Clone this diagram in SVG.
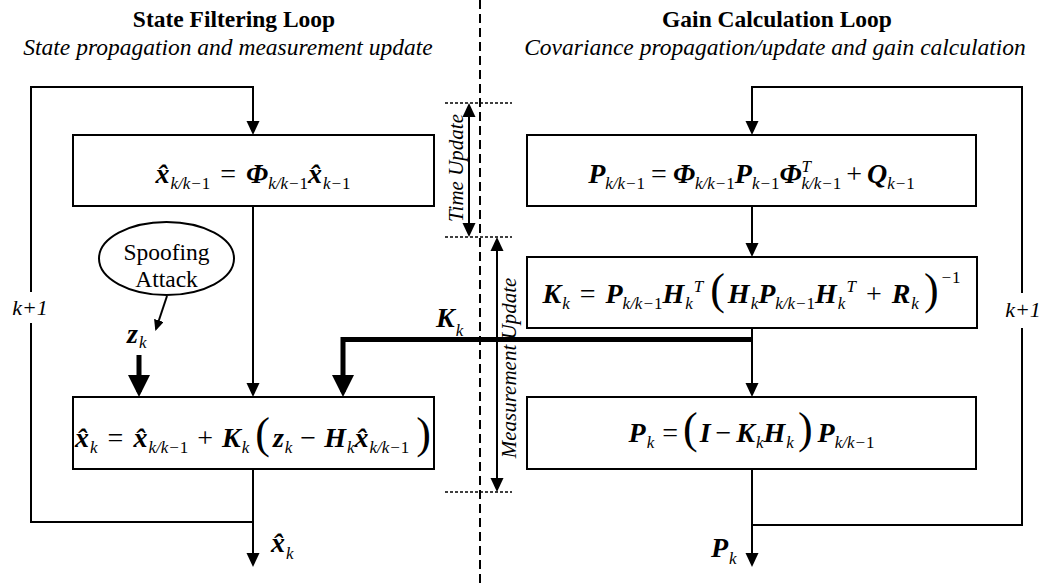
<svg xmlns="http://www.w3.org/2000/svg" width="1043" height="585" viewBox="0 0 1043 585">
<style>
text{font-family:"Liberation Serif","Times New Roman",serif;fill:#000}
.t{font-size:23.5px;font-weight:bold}
.st{font-size:23.5px;font-style:italic}
.lbl{font-size:21px;font-style:italic}
.eq{font-size:28px}
.b{font-weight:bold;font-style:italic}
.s{font-style:italic;font-size:17px;font-weight:normal}
.u{font-style:normal}
.o{font-style:normal;font-weight:normal}
.p{font-size:44px;font-weight:normal;font-style:normal}
.box{fill:#fff;stroke:#000;stroke-width:2}
.ln{fill:none;stroke:#000;stroke-width:2}
.thick{fill:none;stroke:#000;stroke-width:5}
.dot{fill:none;stroke:#000;stroke-width:1.5;stroke-dasharray:3 2}
.dash{fill:none;stroke:#000;stroke-width:2;stroke-dasharray:9 5}
</style>
<defs>
<marker id="ah" markerUnits="userSpaceOnUse" viewBox="0 0 14 14" refX="11" refY="7" markerWidth="14" markerHeight="14" orient="auto-start-reverse"><path d="M0,0.5 L14,7 L0,13.5 z"/></marker>
<marker id="ahs" markerUnits="userSpaceOnUse" viewBox="0 0 11 10" refX="9" refY="5" markerWidth="11" markerHeight="10" orient="auto"><path d="M0,0 L11,5 L0,10 z"/></marker>
<marker id="aht" markerUnits="userSpaceOnUse" viewBox="0 0 22 22" refX="17" refY="11" markerWidth="22" markerHeight="22" orient="auto"><path d="M0,0 L22,11 L0,22 z"/></marker>
</defs>

<g id="titles">
<text class="t" x="234" y="27" text-anchor="middle">State Filtering Loop</text>
<text class="st" x="228" y="55" text-anchor="middle">State propagation and measurement update</text>
<text class="t" x="777" y="27" text-anchor="middle">Gain Calculation Loop</text>
<text class="st" x="775" y="55" text-anchor="middle">Covariance propagation/update and gain calculation</text>
</g>

<g id="divider">
<path class="dash" d="M480,0 V585"/>
<path class="dot" d="M445,103 H512 M445,237 H512 M445,492 H512"/>
<path class="ln" d="M469,106 V234" marker-start="url(#ah)" marker-end="url(#ah)"/>
<path class="ln" d="M497,240 V489" marker-start="url(#ah)" marker-end="url(#ah)"/>
<text class="lbl" transform="translate(463,168) rotate(-90)" text-anchor="middle">Time Update</text>
<text class="lbl" transform="translate(516,368) rotate(-90)" text-anchor="middle">Measurement Update</text>
</g>

<g id="connectors">
<path class="ln" d="M253,522 H31 V323 M31,292 V87 H253 V132" marker-end="url(#ah)"/>
<path class="ln" d="M253,206 V394" marker-end="url(#ah)"/>
<path class="ln" d="M253,469 V564" marker-end="url(#ah)"/>
<path class="ln" d="M752,525 H1022 V328 M1022,293 V87 H752 V132" marker-end="url(#ah)"/>
<path class="ln" d="M752,206 V254" marker-end="url(#ah)"/>
<path class="ln" d="M752,328 V394" marker-end="url(#ah)"/>
<path class="ln" d="M752,469 V564" marker-end="url(#ah)"/>
<path class="thick" d="M752,339.5 H343 V392" marker-end="url(#aht)"/>
<path class="thick" d="M139,355 V392" marker-end="url(#aht)"/>
<path class="ln" d="M167,296 L156,329" marker-end="url(#ahs)"/>
</g>

<g id="box-state-predict">
<rect class="box" x="73" y="135" width="361" height="71"/>
<text class="eq" x="253" y="183" text-anchor="middle"><tspan class="b">x̂</tspan><tspan class="s" dx="1" dy="6">k/k−<tspan class="u">1</tspan></tspan><tspan class="o" dy="-6" dx="10">=</tspan><tspan class="b" dx="10">Φ</tspan><tspan class="s" dy="6">k/k−<tspan class="u">1</tspan></tspan><tspan class="b" dy="-6">x̂</tspan><tspan class="s" dx="1" dy="6">k−<tspan class="u">1</tspan></tspan></text>
</g>

<g id="box-state-update">
<rect class="box" x="73" y="397" width="361" height="72"/>
<text class="eq" x="253" y="447" text-anchor="middle"><tspan class="b">x̂</tspan><tspan class="s" dx="1" dy="6">k</tspan><tspan class="o" dy="-6" dx="10">=</tspan><tspan class="b" dx="10">x̂</tspan><tspan class="s" dx="1" dy="6">k/k−<tspan class="u">1</tspan></tspan><tspan class="o" dy="-6" dx="9">+</tspan><tspan class="b" dx="9">K</tspan><tspan class="s" dx="1" dy="6">k</tspan><tspan class="p" dy="-5" dx="6">(</tspan><tspan class="b" dy="-1" dx="3">z</tspan><tspan class="s" dx="1" dy="6">k</tspan><tspan class="o" dy="-6" dx="8">−</tspan><tspan class="b" dx="8">H</tspan><tspan class="s" dx="1" dy="6">k</tspan><tspan class="b" dy="-6">x̂</tspan><tspan class="s" dx="1" dy="6">k/k−<tspan class="u">1</tspan></tspan><tspan class="p" dy="-5" dx="7">)</tspan></text>
</g>

<g id="box-cov-predict">
<rect class="box" x="527" y="135" width="449" height="71"/>
<text class="eq" x="751.5" y="183" text-anchor="middle"><tspan class="b">P</tspan><tspan class="s" dy="6">k/k−<tspan class="u">1</tspan></tspan><tspan class="o" dy="-6" dx="6">=</tspan><tspan class="b" dx="6">Φ</tspan><tspan class="s" dy="6">k/k−<tspan class="u">1</tspan></tspan><tspan class="b" dy="-6">P</tspan><tspan class="s" dy="6">k−<tspan class="u">1</tspan></tspan><tspan class="b" dy="-6">Φ</tspan><tspan class="s" dy="-11">T</tspan><tspan class="s" dy="17" dx="-9.5">k/k−<tspan class="u">1</tspan></tspan><tspan class="o" dy="-6" dx="5">+</tspan><tspan class="b" dx="5">Q</tspan><tspan class="s" dy="6">k−<tspan class="u">1</tspan></tspan></text>
</g>

<g id="box-gain">
<rect class="box" x="527" y="257" width="450" height="71"/>
<text class="eq" x="751.5" y="303" text-anchor="middle"><tspan class="b">K</tspan><tspan class="s" dx="1" dy="6">k</tspan><tspan class="o" dy="-6" dx="10">=</tspan><tspan class="b" dx="10">P</tspan><tspan class="s" dy="6">k/k−<tspan class="u">1</tspan></tspan><tspan class="b" dy="-6">H</tspan><tspan class="s" dx="1" dy="6">k</tspan><tspan class="s" dx="1" dy="-17">T</tspan><tspan class="p" dy="12" dx="7">(</tspan><tspan class="b" dy="-1" dx="3">H</tspan><tspan class="s" dx="1" dy="6">k</tspan><tspan class="b" dy="-6">P</tspan><tspan class="s" dy="6">k/k−<tspan class="u">1</tspan></tspan><tspan class="b" dy="-6">H</tspan><tspan class="s" dx="1" dy="6">k</tspan><tspan class="s" dx="1" dy="-17">T</tspan><tspan class="o" dy="11" dx="10">+</tspan><tspan class="b" dx="10">R</tspan><tspan class="s" dx="1" dy="6">k</tspan><tspan class="p" dy="-5" dx="5">)</tspan><tspan class="s" dx="2" dy="-21">−<tspan class="u">1</tspan></tspan></text>
</g>

<g id="box-cov-update">
<rect class="box" x="527" y="397" width="449" height="72"/>
<text class="eq" x="751.5" y="442" text-anchor="middle"><tspan class="b">P</tspan><tspan class="s" dx="1" dy="6">k</tspan><tspan class="o" dy="-6" dx="8">=</tspan><tspan class="p" dy="1" dx="5">(</tspan><tspan class="b" dy="-1" dx="2">I</tspan><tspan class="o" dx="5">−</tspan><tspan class="b" dx="5">K</tspan><tspan class="s" dx="1" dy="6">k</tspan><tspan class="b" dy="-6">H</tspan><tspan class="s" dx="1" dy="6">k</tspan><tspan class="p" dy="-5" dx="4">)</tspan><tspan class="b" dy="-1" dx="5">P</tspan><tspan class="s" dy="6">k/k−<tspan class="u">1</tspan></tspan></text>
</g>

<g id="spoofing-attack">
<ellipse class="box" cx="166.5" cy="258.5" rx="67.5" ry="36.5"/>
<text x="166.5" y="260" text-anchor="middle" style="font-size:23.5px">Spoofing</text>
<text x="166.5" y="287" text-anchor="middle" style="font-size:23.5px">Attack</text>
</g>

<g id="labels">
<text class="lbl" x="30" y="315" text-anchor="middle" style="font-size:22px">k+1</text>
<text class="lbl" x="1023" y="317" text-anchor="middle" style="font-size:22px">k+1</text>
<text class="eq" x="127" y="343"><tspan class="b">z</tspan><tspan class="s" dx="1" dy="5">k</tspan></text>
<text class="eq" x="436" y="327"><tspan class="b">K</tspan><tspan class="s" dx="1" dy="9">k</tspan></text>
<text class="eq" x="271" y="552"><tspan class="b">x̂</tspan><tspan class="s" dx="1" dy="7">k</tspan></text>
<text class="eq" x="711" y="557"><tspan class="b">P</tspan><tspan class="s" dx="1" dy="7">k</tspan></text>
</g>
</svg>
